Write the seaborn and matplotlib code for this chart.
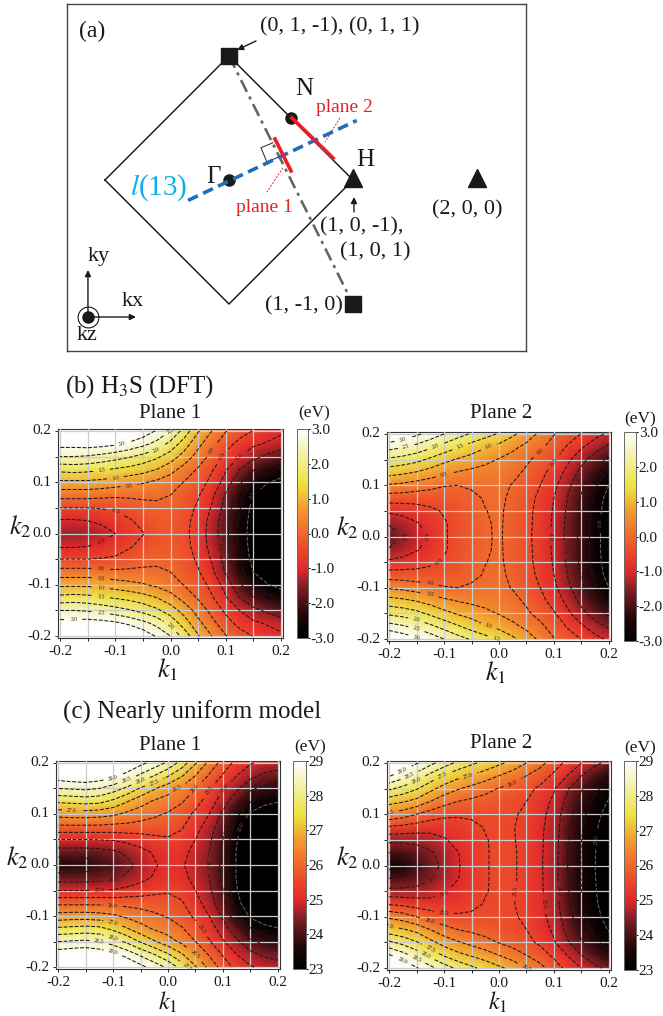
import numpy as np
import matplotlib
matplotlib.use("Agg")
import matplotlib.pyplot as plt
from matplotlib.colors import LinearSegmentedColormap
import seaborn as sns

W, H = 663, 1016

# rows are k2 = 0.2 ... -0.2, columns are k1 = -0.2 ... 0.2
b1_rows = [
    [4.5,4.5,4.5,4.3,4.05,3.7,3.35,2.95,2.5,1.8,1.05,.5,.03,-.28,-.52,-.73,-.9],
    [3.2,3.2,3.25,3.2,3.1,2.9,2.65,2.35,1.85,1.25,.65,.15,-.3,-.65,-.9,-1.05,-1.2],
    [2.5,2.5,2.45,2.35,2.2,2.05,1.85,1.6,1.25,.8,.3,-.15,-.6,-1.0,-1.35,-1.6,-1.85],
    [1.65,1.7,1.65,1.55,1.45,1.35,1.2,1.0,.7,.3,-.05,-.45,-.95,-1.5,-1.95,-2.3,-2.6],
    [.9,.9,.9,.85,.75,.65,.55,.4,.2,-.02,-.25,-.65,-1.2,-1.9,-2.55,-2.95,-3.2],
    [.2,.2,.2,.15,.1,.1,.1,.08,0,-.18,-.45,-.9,-1.55,-2.3,-3,-3.4,-3.7],
    [-.5,-.5,-.5,-.47,-.42,-.3,-.17,-.1,-.12,-.28,-.58,-1.05,-1.7,-2.45,-3.2,-3.7,-4.1],
    [-1.05,-1.05,-1.0,-.9,-.75,-.55,-.37,-.23,-.2,-.35,-.68,-1.18,-1.82,-2.55,-3.3,-3.85,-4.3],
    [-1.4,-1.4,-1.35,-1.2,-1.0,-.75,-.52,-.33,-.25,-.38,-.72,-1.22,-1.85,-2.6,-3.35,-3.9,-4.4],
    [-1.05,-1.05,-1.0,-.9,-.75,-.55,-.37,-.23,-.2,-.35,-.68,-1.18,-1.82,-2.55,-3.3,-3.85,-4.3],
    [-.5,-.5,-.5,-.47,-.42,-.3,-.17,-.1,-.12,-.28,-.58,-1.05,-1.7,-2.45,-3.2,-3.7,-4.1],
    [.2,.2,.2,.15,.1,.1,.1,.08,0,-.18,-.45,-.9,-1.55,-2.3,-3,-3.4,-3.7],
    [.9,.9,.9,.85,.75,.65,.55,.4,.2,-.02,-.25,-.65,-1.2,-1.9,-2.55,-2.95,-3.2],
    [1.65,1.7,1.65,1.55,1.45,1.35,1.2,1.0,.7,.3,-.05,-.45,-.95,-1.5,-1.95,-2.3,-2.6],
    [2.5,2.5,2.45,2.35,2.2,2.05,1.85,1.6,1.25,.8,.3,-.15,-.6,-1.0,-1.35,-1.6,-1.85],
    [3.2,3.2,3.25,3.2,3.1,2.9,2.65,2.35,1.85,1.25,.65,.15,-.3,-.65,-.9,-1.05,-1.2],
    [4.5,4.5,4.5,4.3,4.05,3.7,3.35,2.95,2.5,1.8,1.05,.5,.03,-.28,-.52,-.73,-.9],
]
b2_rows = [
    [3.6,3.35,3.1,2.8,2.5,2.2,1.95,1.7,1.45,1.1,.75,.4,.02,-.25,-.52,-.83,-1.1],
    [2.7,2.55,2.35,2.1,1.82,1.55,1.28,1.05,.85,.62,.38,.1,-.2,-.55,-.93,-1.28,-1.6],
    [1.9,1.8,1.65,1.4,1.15,.95,.8,.62,.47,.3,.08,-.16,-.45,-.9,-1.35,-1.75,-2.1],
    [1.2,1.1,.97,.8,.6,.47,.38,.33,.27,.13,-.08,-.35,-.7,-1.15,-1.65,-2.12,-2.6],
    [.45,.38,.27,.15,.03,0,.05,.13,.13,-.03,-.22,-.5,-.88,-1.38,-1.9,-2.42,-3],
    [-.25,-.27,-.3,-.28,-.24,-.18,-.08,.03,.08,-.08,-.3,-.62,-1.0,-1.52,-2.05,-2.62,-3.25],
    [-.9,-.82,-.72,-.6,-.45,-.3,-.14,-.01,.06,-.12,-.35,-.67,-1.05,-1.58,-2.12,-2.72,-3.35],
    [-1.45,-1.27,-1.05,-.82,-.55,-.35,-.18,-.04,.05,-.13,-.37,-.68,-1.08,-1.62,-2.15,-2.75,-3.4],
    [-1.85,-1.5,-1.2,-.9,-.55,-.35,-.2,-.05,.05,-.15,-.38,-.7,-1.1,-1.65,-2.15,-2.75,-3.4],
    [-1.45,-1.27,-1.05,-.82,-.55,-.35,-.18,-.04,.05,-.13,-.37,-.68,-1.08,-1.62,-2.15,-2.75,-3.4],
    [-.9,-.82,-.72,-.6,-.45,-.3,-.14,-.01,.06,-.12,-.35,-.67,-1.05,-1.58,-2.12,-2.72,-3.35],
    [-.25,-.27,-.3,-.28,-.24,-.18,-.08,.03,.08,-.08,-.3,-.62,-1.0,-1.52,-2.05,-2.62,-3.25],
    [.45,.38,.27,.15,.03,0,.05,.13,.13,-.03,-.22,-.5,-.88,-1.38,-1.9,-2.42,-3],
    [1.2,1.1,.97,.8,.6,.47,.38,.33,.27,.13,-.08,-.35,-.7,-1.15,-1.65,-2.12,-2.6],
    [1.9,1.8,1.65,1.4,1.15,.95,.8,.62,.47,.3,.08,-.16,-.45,-.9,-1.35,-1.75,-2.1],
    [2.7,2.55,2.35,2.1,1.82,1.55,1.28,1.05,.85,.62,.38,.1,-.2,-.55,-.93,-1.28,-1.6],
    [3.6,3.35,3.1,2.8,2.5,2.2,1.95,1.7,1.45,1.1,.75,.4,.02,-.25,-.52,-.83,-1.1],
]
c1_rows = [
    [30.2,30.2,30.2,30.1,29.9,29.55,29.15,28.8,28.4,27.8,27.05,26.35,25.8,25.35,25.05,24.85,24.75],
    [29.3,29.4,29.45,29.35,29.15,28.8,28.4,28.0,27.55,27.05,26.5,25.95,25.45,25,24.65,24.4,24.3],
    [28.5,28.55,28.6,28.5,28.25,27.9,27.45,27.05,26.7,26.4,26.0,25.55,25.05,24.6,24.1,23.85,23.7],
    [27.6,27.65,27.7,27.65,27.4,27.05,26.7,26.45,26.3,26.05,25.7,25.25,24.75,24.15,23.55,23.2,23.05],
    [26.7,26.75,26.75,26.7,26.6,26.4,26.25,26.1,25.95,25.75,25.4,25,24.4,23.65,22.9,22.6,22.4],
    [25.9,25.9,25.9,25.9,25.85,25.85,25.8,25.75,25.7,25.55,25.2,24.75,24.15,23.25,22.45,22.0,21.9],
    [25,25,25,25.02,25.05,25.15,25.25,25.38,25.45,25.35,25,24.6,24,23.05,22.2,21.65,21.45],
    [24.25,24.25,24.25,24.3,24.4,24.6,24.85,25.05,25.2,25.15,24.85,24.5,23.9,22.95,22,21.4,21.2],
    [23.6,23.65,23.7,23.85,24.05,24.35,24.65,24.95,25.15,25.05,24.8,24.45,23.85,22.95,21.95,21.2,21],
    [24.25,24.25,24.25,24.3,24.4,24.6,24.85,25.05,25.2,25.15,24.85,24.5,23.9,22.95,22,21.4,21.2],
    [25,25,25,25.02,25.05,25.15,25.25,25.38,25.45,25.35,25,24.6,24,23.05,22.2,21.65,21.45],
    [25.9,25.9,25.9,25.9,25.85,25.85,25.8,25.75,25.7,25.55,25.2,24.75,24.15,23.25,22.45,22.0,21.9],
    [26.7,26.75,26.75,26.7,26.6,26.4,26.25,26.1,25.95,25.75,25.4,25,24.4,23.65,22.9,22.6,22.4],
    [27.6,27.65,27.7,27.65,27.4,27.05,26.7,26.45,26.3,26.05,25.7,25.25,24.75,24.15,23.55,23.2,23.05],
    [28.5,28.55,28.6,28.5,28.25,27.9,27.45,27.05,26.7,26.4,26.0,25.55,25.05,24.6,24.1,23.85,23.7],
    [29.3,29.4,29.45,29.35,29.15,28.8,28.4,28.0,27.55,27.05,26.5,25.95,25.45,25,24.65,24.4,24.3],
    [30.2,30.2,30.2,30.1,29.9,29.55,29.15,28.8,28.4,27.8,27.05,26.35,25.8,25.35,25.05,24.85,24.75],
]
c2_rows = [
    [29.9,29.45,29.05,28.65,28.25,27.9,27.6,27.35,27.1,26.85,26.5,26.15,25.75,25.35,25,24.65,24.3],
    [29.05,28.7,28.3,27.85,27.45,27.15,26.95,26.75,26.5,26.25,26.0,25.75,25.4,24.98,24.5,24.05,23.7],
    [28.1,27.85,27.55,27.15,26.8,26.55,26.35,26.15,25.98,25.82,25.65,25.4,25.05,24.55,24.05,23.62,23.25],
    [27.2,27.05,26.85,26.5,26.2,26,25.9,25.82,25.72,25.62,25.5,25.25,24.9,24.35,23.82,23.35,22.95],
    [26.4,26.25,26.0,25.78,25.62,25.56,25.56,25.6,25.6,25.55,25.42,25.15,24.8,24.2,23.65,23.2,22.75],
    [25.45,25.38,25.28,25.2,25.22,25.32,25.42,25.52,25.56,25.52,25.38,25.1,24.75,24.1,23.55,23.1,22.6],
    [24.65,24.65,24.68,24.78,24.95,25.15,25.33,25.48,25.57,25.53,25.38,25.08,24.72,24.05,23.5,23.05,22.5],
    [24,24.05,24.2,24.43,24.7,24.98,25.25,25.47,25.58,25.55,25.38,25.07,24.72,24.0,23.48,23.02,22.45],
    [23.25,23.5,23.95,24.3,24.62,24.95,25.25,25.47,25.58,25.55,25.38,25.06,24.72,24,23.48,23,22.4],
    [24,24.05,24.2,24.43,24.7,24.98,25.25,25.47,25.58,25.55,25.38,25.07,24.72,24.0,23.48,23.02,22.45],
    [24.65,24.65,24.68,24.78,24.95,25.15,25.33,25.48,25.57,25.53,25.38,25.08,24.72,24.05,23.5,23.05,22.5],
    [25.45,25.38,25.28,25.2,25.22,25.32,25.42,25.52,25.56,25.52,25.38,25.1,24.75,24.1,23.55,23.1,22.6],
    [26.4,26.25,26.0,25.78,25.62,25.56,25.56,25.6,25.6,25.55,25.42,25.15,24.8,24.2,23.65,23.2,22.75],
    [27.2,27.05,26.85,26.5,26.2,26,25.9,25.82,25.72,25.62,25.5,25.25,24.9,24.35,23.82,23.35,22.95],
    [28.1,27.85,27.55,27.15,26.8,26.55,26.35,26.15,25.98,25.82,25.65,25.4,25.05,24.55,24.05,23.62,23.25],
    [29.05,28.7,28.3,27.85,27.45,27.15,26.95,26.75,26.5,26.25,26.0,25.75,25.4,24.98,24.5,24.05,23.7],
    [29.9,29.45,29.05,28.65,28.25,27.9,27.6,27.35,27.1,26.85,26.5,26.15,25.75,25.35,25,24.65,24.3],
]
k_labels = ['-0.2', '', '-0.1', '', '0.0', '', '0.1', '', '0.2']
dft_levels = np.arange(-3.0, 3.01, 0.5)
model_levels = np.arange(23.0, 29.01, 0.5)
dft_ticks = [-3, -2, -1, 0, 1, 2, 3]
dft_ticklabels = ['-3.0', '-2.0', '-1.0', '0.0', '1.0', '2.0', '3.0']
model_ticks = [23, 24, 25, 26, 27, 28, 29]

# brillouin zone picture, in units of the H point distance
zone_x = [-1, 0, 1, 0, -1]
zone_y = [0, 1, 0, -1, 0]
square_x, square_y = [0, 1], [1, -1]
triangle_x, triangle_y = [1, 2], [0.02, 0.02]
dot_x, dot_y = [0, 0.5], [0, 0.5]
blue_x, blue_y = [-0.33, 1.03], [-0.165, 0.48]
plane1_x, plane1_y = [0.371, 0.5], [0.331, 0.073]
plane2_x, plane2_y = [0.508, 0.84], [0.5, 0.177]

cmap = LinearSegmentedColormap.from_list('fs', [
    (0.0, '#000000'), (0.1, '#1d0507'), (0.18, '#521316'), (0.26, '#8f2228'),
    (0.33, '#e2282a'), (0.42, '#ec462a'), (0.5, '#ef682c'), (0.62, '#f49a30'),
    (0.74, '#ece23c'), (0.83, '#f1ec80'), (0.92, '#f7f5c4'), (1.0, '#ffffff')])

plt.rcParams['font.family'] = ['Liberation Serif', 'DejaVu Sans']
plt.rcParams['mathtext.fontset'] = 'stix'
plt.rcParams['axes.unicode_minus'] = False
TXT = '#1a1a1a'


def px_rect(x0, y0, x1, y1):
    return [x0 / W, 1 - y1 / H, (x1 - x0) / W, (y1 - y0) / H]


def label(fig, x, y, s, size=16, color=TXT, ha='center', **kw):
    fig.text(x / W, 1 - y / H, s, fontsize=size, color=color, ha=ha, va='center', **kw)


def panel(fig, rows, rect, cbar_rect, levels, vmin, vmax, ticks, ticklabels):
    z = np.array(rows)
    ax = fig.add_axes(px_rect(*rect))
    cax = fig.add_axes(px_rect(*cbar_rect))
    sns.heatmap(z, ax=ax, cbar_ax=cax, cmap=cmap, vmin=vmin, vmax=vmax, shading='gouraud')
    m = 0.15
    ax.set_xlim(-m, 16 + m)
    ax.set_ylim(16 + m, -m)
    idx = np.arange(0, 17, 2)
    ax.set_xticks(idx)
    ax.set_xticklabels(k_labels, rotation=0, fontsize=11, color=TXT)
    ax.set_yticks(idx)
    ax.set_yticklabels(k_labels[::-1], rotation=0, fontsize=11, color=TXT)
    ax.tick_params(length=2, width=0.7, pad=3, color='#222222')
    ax.grid(True, color='#cccccc', lw=0.9)
    ax.set_axisbelow(False)
    for s in ax.spines.values():
        s.set_visible(True)
        s.set_linewidth(0.8)
        s.set_color('#333333')
    line_colors = ['#666666'] + ['#1a1a1a'] * (len(levels) - 1)
    cs = ax.contour(z, levels=levels, colors=line_colors, linestyles='--', linewidths=0.75, zorder=3)
    ax.clabel(cs, fmt='%.1f', fontsize=4, inline=True)
    cb = ax.collections[0].colorbar
    cb.set_ticks(ticks)
    cb.set_ticklabels(ticklabels)
    cax.tick_params(length=1.5, width=0.7, pad=0.5, labelsize=11, labelcolor=TXT)
    cb.outline.set_visible(True)
    cb.outline.set_edgecolor('#666666')
    cb.outline.set_linewidth(0.7)
    return ax


def zone_panel(fig):
    ax = fig.add_axes(px_rect(67, 4, 526, 351))
    ax.set_xlim(-1.306, 2.395)
    ax.set_ylim(-1.379, 1.419)
    ax.set_xticks([])
    ax.set_yticks([])
    for s in ax.spines.values():
        s.set_linewidth(1.0)
        s.set_color('#444444')
    ax.plot(zone_x, zone_y, color='#222222', lw=1.1)
    ax.plot(square_x, square_y, color='#666666', lw=1.9, ls=(0, (5, 2, 1.2, 2)))
    # right angle mark
    ax.plot([0.354, 0.258, 0.306, 0.40], [0.30, 0.26, 0.145, 0.185], color='#222222', lw=0.7)
    ax.plot(square_x, square_y, ls='', marker='s', ms=11, color='#1a1a1a', zorder=3)
    ax.plot(triangle_x, triangle_y, ls='', marker='^', ms=13, color='#1a1a1a', zorder=3)
    ax.plot(dot_x, dot_y, ls='', marker='o', ms=8, color='#1a1a1a', zorder=3)
    ax.plot(blue_x, blue_y, color='#1f6fb8', lw=2.6, ls=(0, (3, 1.6)), zorder=4)
    ax.plot(plane1_x, plane1_y, color='#e8202a', lw=2.6, zorder=5)
    ax.plot(plane2_x, plane2_y, color='#e8202a', lw=2.6, zorder=5)
    ax.plot([0.895, 0.774], [0.50, 0.306], color='#e8202a', lw=0.7, ls=(0, (2, 1.5)))
    ax.plot([0.435, 0.306], [0.097, -0.097], color='#e8202a', lw=0.7, ls=(0, (2, 1.5)))
    arrow = dict(arrowstyle='-|>', color='#1a1a1a', lw=1.0, mutation_scale=9, shrinkA=0, shrinkB=0)
    ax.annotate('', xy=(0.065, 1.048), xytext=(0.218, 1.121), arrowprops=arrow)
    ax.annotate('', xy=(1.008, -0.137), xytext=(1.008, -0.258), arrowprops=arrow)
    ax.annotate('', xy=(-1.137, -0.726), xytext=(-1.137, -1.105), arrowprops=arrow)
    ax.annotate('', xy=(-0.75, -1.105), xytext=(-1.137, -1.105), arrowprops=arrow)
    ax.plot([-1.137], [-1.105], ls='', marker='o', ms=15, mfc='none', mec='#1a1a1a', mew=0.8)
    ax.plot([-1.137], [-1.105], ls='', marker='o', ms=8, color='#1a1a1a')


def main():
    fig = plt.figure(figsize=(W / 100, H / 100), dpi=100)
    zone_panel(fig)
    panel(fig, b1_rows, (58, 429, 283, 638), (297, 429, 308, 638), dft_levels, -3, 3, dft_ticks, dft_ticklabels)
    panel(fig, b2_rows, (387, 432, 611, 641), (624, 432, 636, 641), dft_levels, -3, 3, dft_ticks, dft_ticklabels)
    panel(fig, c1_rows, (56, 761, 280, 969), (293, 761, 306, 969), model_levels, 23, 29, model_ticks, model_ticks)
    panel(fig, c2_rows, (387, 761, 611, 970), (624, 761, 636, 970), model_levels, 23, 29, model_ticks, model_ticks)

    label(fig, 92, 31, '(a)', 17)
    label(fig, 340, 27, '(0, 1, -1), (0, 1, 1)')
    label(fig, 320, 227, '(1, 0, -1),', ha='left')
    label(fig, 340, 252, '(1, 0, 1)', ha='left')
    label(fig, 467, 210, '(2, 0, 0)')
    label(fig, 304, 306, '(1, -1, 0)')
    label(fig, 304, 89, 'N', 18)
    label(fig, 365, 160, 'H', 18)
    label(fig, 213, 177, '\u0393', 18)
    label(fig, 159, 188, r'$\mathit{l}$(13)', 21, color='#12aee8')
    label(fig, 344, 107, 'plane 2', 14, color='#e8202a')
    label(fig, 264, 207, 'plane 1', 14, color='#e8202a')
    label(fig, 99, 257, 'ky')
    label(fig, 133, 302, 'kx')
    label(fig, 87, 335, 'kz')

    label(fig, 65, 387, r'(b) H$_3$S (DFT)', 18, ha='left')
    label(fig, 63, 712, '(c) Nearly uniform model', 18, ha='left')
    for x, y, s in [(170, 413, 'Plane 1'), (501, 413, 'Plane 2'), (170, 745, 'Plane 1'), (501, 744, 'Plane 2')]:
        label(fig, x, y, s, 15)
    for x, y in [(314, 413), (640, 419), (310, 747), (640, 748)]:
        label(fig, x, y, '(eV)', 12.5)
    for x, y in [(20, 527), (347, 528), (17, 858), (347, 858)]:
        label(fig, x, y, r'$k_2$', 19)
    for x, y in [(168, 670), (496, 673)]:
        label(fig, x, y, r'$k_1$', 19)
    for x, y in [(168, 1002), (498, 1002)]:
        label(fig, x, y, r'$k_1$', 17.5)

    fig.savefig('out.png', dpi=100)
    plt.close(fig)


if __name__ == '__main__':
    main()
